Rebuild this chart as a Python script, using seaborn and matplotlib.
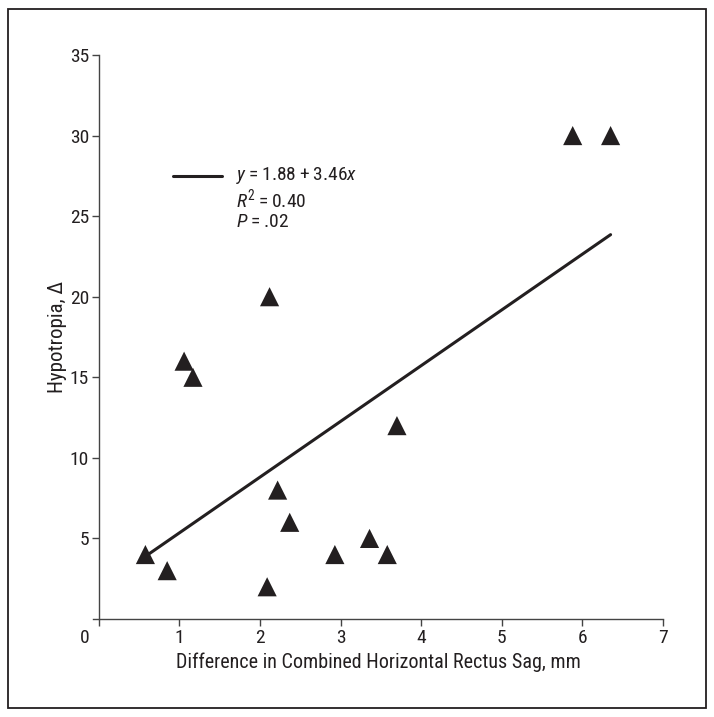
import matplotlib
matplotlib.use("Agg")
import matplotlib.pyplot as plt
import seaborn as sns
import pandas as pd
import matplotlib.transforms as mtrans
from matplotlib.patches import Rectangle
from matplotlib import font_manager

sns.set_style("white")
available = {f.name for f in font_manager.fontManager.ttflist}
cands = ["Roboto Condensed", "Liberation Sans Narrow", "Arimo", "Liberation Sans", "DejaVu Sans"]
FONT = [c for c in cands if c in available] or ["DejaVu Sans"]
plt.rcParams["font.family"] = FONT
plt.rcParams["mathtext.fontset"] = "custom"
plt.rcParams["mathtext.rm"] = FONT[0]
plt.rcParams["mathtext.it"] = FONT[0] + ":italic"

sag_diff = [0.58, 0.85, 1.06, 1.17, 2.12, 2.09, 2.22, 2.37, 2.93, 3.36, 3.58, 3.70, 5.88, 6.35]
hypotropia = [4, 3, 16, 15, 20, 2, 8, 6, 4, 5, 4, 12, 30, 30]
intercept, slope = 1.88, 3.46
x_ticks = [0, 1, 2, 3, 4, 5, 6, 7]
y_ticks = [5, 10, 15, 20, 25, 30, 35]

df = pd.DataFrame({"x": sag_diff, "y": hypotropia})

fig = plt.figure(figsize=(7.14, 7.17), dpi=100)
fig.patches.append(Rectangle((8 / 714, 9 / 717), 698 / 714, 699 / 717, transform=fig.transFigure,
                             fill=False, edgecolor="#231f20", linewidth=1.3))
ax = fig.add_axes([93 / 714, 98 / 717, 570 / 714, 564 / 717])

color = "#231f20"
xs = [min(sag_diff), max(sag_diff)]
sns.lineplot(x=xs, y=[intercept + slope * v for v in xs], ax=ax, color=color, linewidth=2.2)
sns.scatterplot(data=df, x="x", y="y", ax=ax, marker="^", s=190, color=color, edgecolor="none", zorder=3)

ax.set_xlim(-0.07, 7)
ax.set_ylim(0, 35)
ax.spines["left"].set_position(("data", 0))
for s in ["top", "right"]:
    ax.spines[s].set_visible(False)
for s in ["left", "bottom"]:
    ax.spines[s].set_color("#444444")
    ax.spines[s].set_linewidth(1.0)

ax.set_xticks(x_ticks)
ax.set_xticklabels([str(t) for t in x_ticks], fontsize=14)
ax.set_yticks(y_ticks)
ax.set_yticklabels([str(t) for t in y_ticks], fontsize=14)
ax.tick_params(axis="both", direction="out", length=5, width=1, color="#444444", labelcolor="#231f20", pad=2,
               bottom=True, left=True)
lbl0 = ax.get_xticklabels()[0]
lbl0.set_transform(lbl0.get_transform() + mtrans.ScaledTranslation(-14 / 100, 0, fig.dpi_scale_trans))

ax.set_xlabel("Difference in Combined Horizontal Rectus Sag, mm", fontsize=14.5, color="#231f20", labelpad=4)
ax.set_ylabel("Hypotropia, Δ", fontsize=15, color="#231f20", labelpad=2)

ax.plot([0.92, 1.53], [27.5, 27.5], color=color, linewidth=2.2)
tx = 1.70
ts = "\u2009"
ax.text(tx, 27.5, rf"$y${ts}={ts}1.88{ts}+{ts}3.46$x$", fontsize=14, va="center", ha="left", color=color)
ax.text(tx, 26.07, rf"$R^2${ts}={ts}0.40", fontsize=14, va="center", ha="left", color=color)
ax.text(tx, 24.64, rf"$P${ts}={ts}.02", fontsize=14, va="center", ha="left", color=color)

fig.savefig("out.png", dpi=100)
